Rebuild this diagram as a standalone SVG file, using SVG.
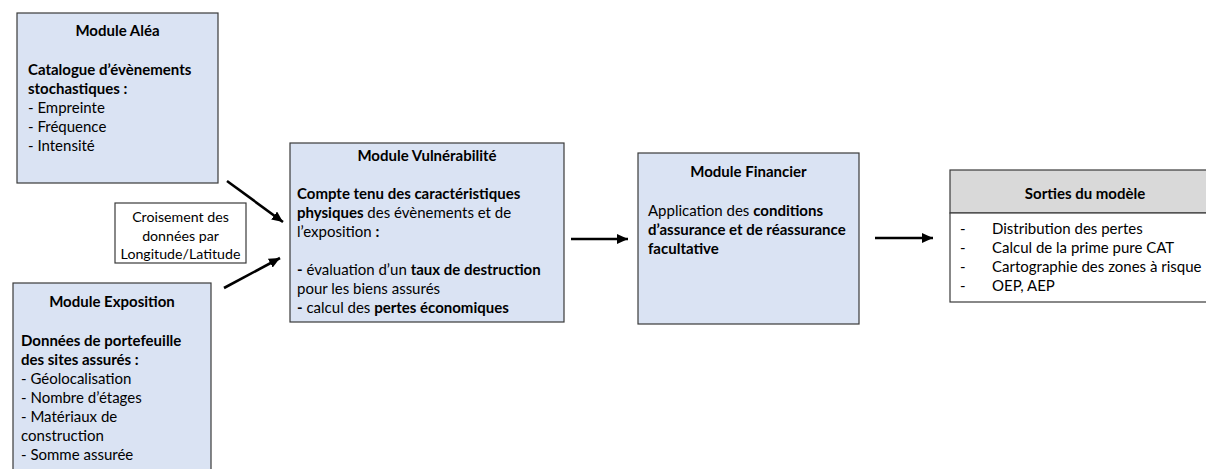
<svg xmlns="http://www.w3.org/2000/svg" width="1206" height="469" viewBox="0 0 1206 469">
<style>
text{font-family:Lato,"Open Sans","Liberation Sans",sans-serif;font-size:15px;fill:#000}
.b{font-weight:bold}
.t{font-weight:bold;text-anchor:middle}
.box{fill:#dae3f3;stroke:#3a3a3a;stroke-width:1.2}
.wbox{fill:#fff;stroke:#3a3a3a;stroke-width:1.2}
.hdr{fill:#d9d9d9;stroke:#3a3a3a;stroke-width:1.2}
.sm{font-size:14.2px;text-anchor:middle}
.conn line{stroke:#000;stroke-width:2.6;marker-end:url(#ah)}
</style>
<defs>
<marker id="ah" markerUnits="userSpaceOnUse" markerWidth="12" markerHeight="10" refX="11" refY="5" orient="auto">
<path d="M0,0 L11,5 L0,10 Z" fill="#000"/>
</marker>
</defs>
<rect width="1206" height="469" fill="#fff"/>

<g id="alea">
<rect class="box" x="17" y="13" width="201" height="170"/>
<text class="t" x="117.5" y="36">Module Aléa</text>
<text class="b" x="28" y="75">Catalogue d’évènements</text>
<text class="b" x="28" y="94">stochastiques :</text>
<text x="28" y="113">- Empreinte</text>
<text x="28" y="132">- Fréquence</text>
<text x="28" y="151">- Intensité</text>
</g>

<g id="croisement">
<rect class="wbox" x="115" y="203" width="131" height="60"/>
<text class="sm" x="180.5" y="222">Croisement des</text>
<text class="sm" x="180.5" y="241">données par</text>
<text class="sm" x="180.5" y="259">Longitude/Latitude</text>
</g>

<g id="exposition">
<rect class="box" x="13" y="283" width="198" height="200"/>
<text class="t" x="112" y="307">Module Exposition</text>
<text class="b" x="21" y="346">Données de portefeuille</text>
<text class="b" x="21" y="365">des sites assurés :</text>
<text x="21" y="384">- Géolocalisation</text>
<text x="21" y="403">- Nombre d’étages</text>
<text x="21" y="422">- Matériaux de</text>
<text x="21" y="441">construction</text>
<text x="21" y="460">- Somme assurée</text>
</g>

<g id="vulnerabilite">
<rect class="box" x="290" y="143" width="274" height="179"/>
<text class="t" x="427" y="161">Module Vulnérabilité</text>
<text class="b" x="297" y="199">Compte tenu des caractéristiques</text>
<text x="297" y="218"><tspan class="b">physiques</tspan> des évènements et de</text>
<text x="297" y="237">l’exposition <tspan class="b">:</tspan></text>
<text x="297" y="275"><tspan class="b">-</tspan> évaluation d’un <tspan class="b">taux de destruction</tspan></text>
<text x="297" y="294">pour les biens assurés</text>
<text x="297" y="313"><tspan class="b">-</tspan> calcul des <tspan class="b">pertes économiques</tspan></text>
</g>

<g id="financier">
<rect class="box" x="638" y="153" width="221" height="171"/>
<text class="t" x="748.5" y="177">Module Financier</text>
<text x="648" y="216">Application des <tspan class="b">conditions</tspan></text>
<text class="b" x="648" y="235">d’assurance et de réassurance</text>
<text class="b" x="648" y="254">facultative</text>
</g>

<g id="sorties">
<rect class="hdr" x="950" y="170" width="270" height="43"/>
<rect class="wbox" x="950" y="213" width="270" height="89"/>
<text class="t" x="1085" y="199">Sorties du modèle</text>
<text x="960" y="234">-</text>
<text x="992" y="234">Distribution des pertes</text>
<text x="960" y="253">-</text>
<text x="992" y="253">Calcul de la prime pure CAT</text>
<text x="960" y="272">-</text>
<text x="992" y="272">Cartographie des zones à risque</text>
<text x="960" y="291">-</text>
<text x="992" y="291">OEP, AEP</text>
</g>

<g id="connectors" class="conn">
<line x1="227" y1="181" x2="283" y2="222"/>
<line x1="224" y1="288" x2="280" y2="258"/>
<line x1="571" y1="239" x2="628" y2="239"/>
<line x1="875" y1="238" x2="933" y2="238"/>
</g>
</svg>
